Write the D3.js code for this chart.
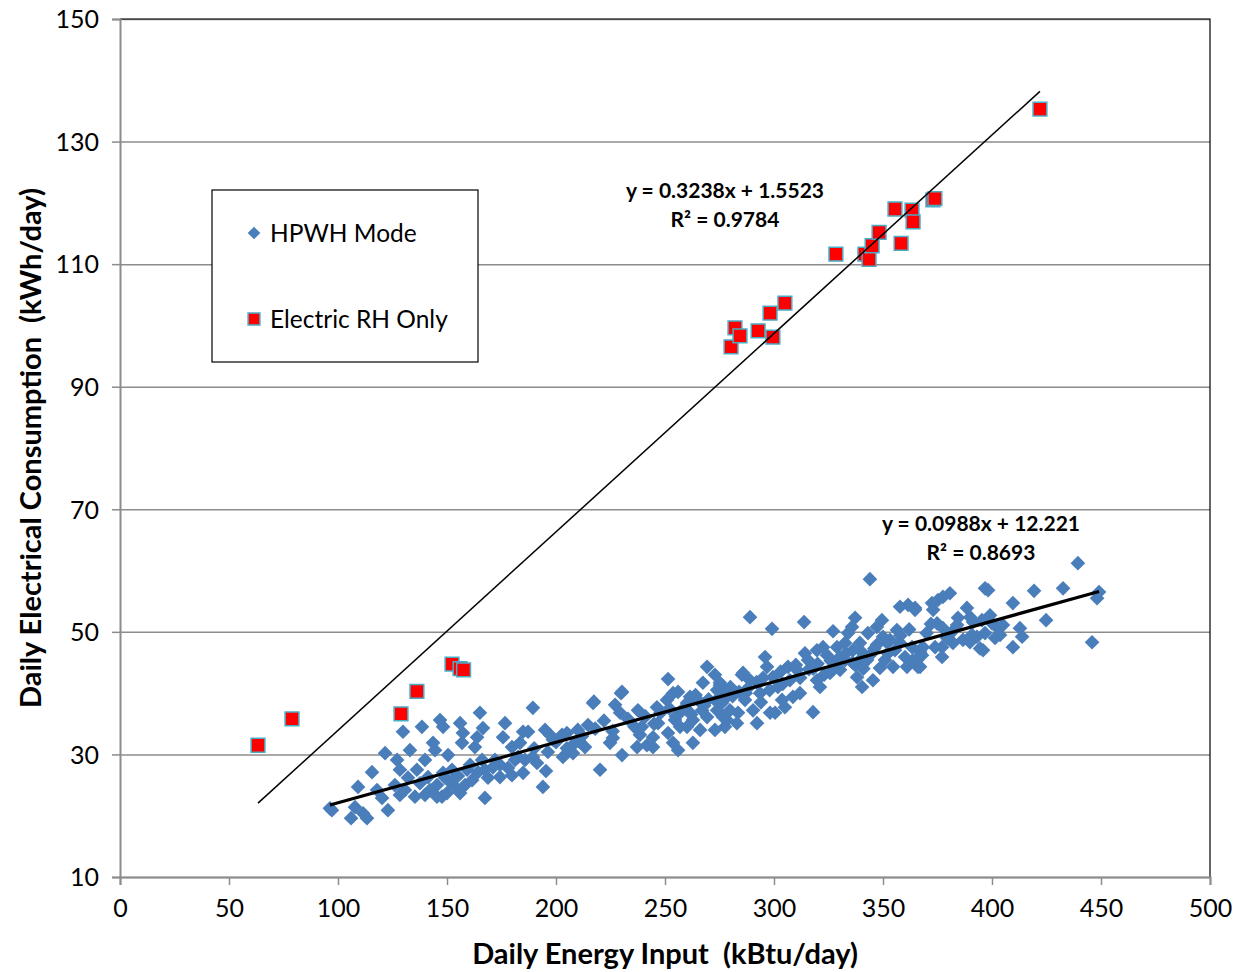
<!DOCTYPE html>
<html>
<head>
<meta charset="utf-8">
<script src="https://cdn.jsdelivr.net/npm/d3@7"></script>
<style>
  body { margin: 0; background: #fff; }
  svg text { font-family: Lato, "Open Sans", sans-serif; }
</style>
</head>
<body>
<div id="chart"></div>
<script>
// Electric RH Only (kBtu/day, kWh/day)
var rhX = [63.3, 78.9, 128.9, 136.2, 152.3, 156.0, 157.6, 280.3, 282.1, 284.4, 292.7, 298.2, 299.5, 305.0,
  328.4, 341.7, 343.6, 345.0, 348.2, 355.5, 358.3, 363.3, 363.8, 372.9, 373.8, 422.0];
var rhY = [31.5, 35.8, 36.6, 40.3, 44.75, 44.0, 43.8, 96.5, 99.6, 98.3, 99.1, 102.0, 98.1, 103.65,
  111.65, 111.65, 110.8, 113.0, 115.2, 119.0, 113.4, 118.8, 116.9, 120.5, 120.7, 135.3];

// HPWH Mode
var hpX = [96.3, 97.2, 106.0, 111.5, 113.3, 109.2, 107.8, 115.6, 117.9, 120.2, 122.9, 121.6, 127.1, 128.4, 129.8, 128.4,
  130.7, 133.0, 138.5, 136.2, 137.6, 139.9, 141.3, 143.6, 144.5, 146.8, 148.2, 150.5, 147.7, 148.2, 151.4, 156.0,
  156.9, 157.3, 153.7, 156.0, 159.2, 161.5, 162.8, 163.8, 165.1, 166.5, 167.4, 167.4, 171.1, 174.3, 176.6, 175.7,
  179.8, 182.6, 184.9, 184.9, 183.5,
  142.2, 145.4, 149.1, 152.3, 155.0, 158.3, 160.6, 164.2, 166.1, 168.8, 172.0, 174.3, 178.0, 179.8, 181.2, 145.4,
  150.0, 139.9, 135.3, 132.1, 126.1,
  189.4, 187.2, 185.8, 189.4, 191.3, 195.0, 197.2, 196.3, 195.4, 194.0, 198.6, 202.8, 203.2, 205.0, 207.8, 208.7,
  211.0, 213.3, 214.7, 217.4, 220.2, 224.8, 226.1, 227.1, 229.4, 230.3, 230.3, 237.6, 237.2, 238.5, 239.4, 241.7,
  244.5, 246.3, 246.8, 244.5, 251.4, 251.4, 250.9, 253.7, 256.0, 253.7, 256.0, 254.6, 256.9, 260.1, 261.5, 262.8,
  262.8, 265.1, 267.4, 269.3, 267.0, 269.3, 272.9, 273.9, 275.2, 272.9, 273.9, 276.1, 278.4, 276.6, 278.4, 275.2,
  266.1, 260.1, 261.5, 256.9,
  289.0, 299.1, 313.8, 327.1, 275.2, 276.6, 279.8, 277.5, 283.0, 283.5, 285.8, 286.7, 289.0, 290.4, 292.2, 293.6,
  295.9, 296.8, 298.2, 300.5, 299.5, 301.8, 303.7, 305.0, 306.4, 307.3, 308.7, 311.9, 314.2, 315.6, 317.9, 319.7,
  321.1, 319.7, 322.5, 324.3, 325.7, 328.0, 328.9, 330.3, 332.6, 334.0, 335.8, 337.2, 336.2, 339.4, 338.1, 340.4,
  342.7, 345.4, 343.1, 347.2, 349.5, 350.0, 352.3, 354.6, 356.4, 357.8, 360.1, 361.0, 363.3, 365.6, 367.0, 357.8,
  361.5, 364.7, 344.0, 217.0, 229.8, 285.3,
  439.4, 432.6, 419.3, 449.1, 448.2, 445.9, 424.8, 409.6, 412.8, 413.8, 409.6, 396.8, 398.2, 380.7, 377.5, 375.2,
  372.5, 373.0, 364.7, 388.5, 384.4, 374.8, 377.5, 391.3, 395.4, 399.1, 400.0, 402.8, 405.0, 403.7, 401.4, 396.8,
  393.1, 390.8, 389.9, 386.7, 382.1, 379.4, 381.7, 377.1, 373.9, 394.5, 395.9, 368.3, 367.0, 367.9, 377.1, 366.0,
  363.8,
  310.5, 332.6, 337.2, 344.0, 347.2, 353.2, 355.5, 339.4, 348.6, 350.9,
  205, 212, 218, 222, 233, 236, 241, 248, 252, 258, 264, 270, 280, 284, 288, 292, 295, 303, 310, 316, 320, 326,
  333, 340, 346, 352, 358, 362, 370, 372, 384, 390,
  262, 268, 274, 281, 287, 294, 298, 304, 312, 318, 323, 330, 336, 341, 226, 245, 255, 190, 200, 210];
var hpY = [21.2, 20.9, 19.6, 20.4, 19.6, 24.7, 21.4, 27.1, 24.2, 22.9, 20.9, 30.2, 29.1, 27.5, 33.7, 23.4,
  24.2, 30.7, 34.5, 27.5, 25.3, 29.1, 26.3, 31.9, 30.7, 35.6, 34.5, 29.9, 23.1, 27.0, 25.5, 35.1,
  31.9, 33.5, 24.7, 23.7, 27.5, 25.8, 31.2, 32.8, 36.8, 34.3, 27.5, 22.9, 27.9, 26.3, 35.1, 32.8,
  31.2, 29.6, 33.7, 27.0, 31.9,
  24.2, 25.0, 26.2, 27.5, 26.5, 25.0, 28.3, 27.1, 29.1, 26.2, 29.1, 28.3, 27.8, 26.6, 29.1, 23.1,
  23.7, 23.4, 23.1, 26.2, 25.0,
  37.6, 33.7, 29.1, 29.6, 28.6, 34.0, 33.2, 30.4, 27.3, 24.7, 32.4, 33.2, 29.6, 31.0, 30.2, 31.9,
  32.0, 31.2, 34.8, 38.6, 27.5, 31.9, 32.7, 38.1, 36.8, 40.2, 29.9, 37.2, 31.2, 33.2, 34.5, 31.5,
  31.2, 37.7, 35.1, 32.8, 33.5, 42.3, 38.9, 40.0, 40.2, 31.9, 30.7, 35.6, 36.8, 38.4, 39.4, 35.6,
  31.9, 38.9, 41.7, 44.3, 37.2, 36.1, 43.0, 40.5, 41.3, 34.0, 37.2, 38.4, 39.4, 36.1, 35.6, 39.4,
  34.0, 34.5, 36.8, 34.5,
  52.4, 50.5, 51.6, 50.1, 41.7, 40.5, 37.2, 34.5, 35.1, 36.8, 43.3, 38.9, 42.1, 37.2, 35.1, 40.0,
  45.9, 44.3, 36.8, 36.8, 42.6, 41.0, 38.9, 37.7, 44.3, 42.1, 39.4, 40.0, 46.5, 45.4, 36.9, 42.1,
  41.0, 47.0, 47.5, 46.2, 43.3, 44.3, 47.5, 43.8, 48.2, 49.8, 50.8, 52.3, 47.0, 48.2, 42.6, 41.0,
  45.4, 42.1, 49.8, 50.8, 51.9, 49.2, 46.5, 44.3, 50.3, 48.2, 45.9, 44.3, 47.5, 45.4, 44.3, 54.1,
  54.4, 53.6, 58.6, 38.4, 40.0, 43.0,
  61.2, 57.1, 56.7, 56.5, 55.5, 48.3, 51.9, 54.7, 50.6, 49.2, 47.5, 57.1, 56.8, 56.3, 55.7, 55.2,
  54.7, 53.6, 53.9, 53.9, 52.3, 51.4, 50.6, 51.6, 51.9, 52.7, 51.4, 50.6, 51.1, 49.5, 49.0, 49.8,
  49.2, 49.5, 48.3, 48.7, 48.2, 49.0, 50.0, 47.5, 47.5, 47.3, 47.0, 47.5, 46.7, 46.2, 45.9, 44.3,
  45.4,
  43.8, 45.4, 44.6, 46.2, 47.9, 48.7, 47.0, 45.4, 44.1, 45.4,
  33.5, 33.0, 34.2, 35.5, 35.8, 34.5, 36.2, 36.8, 37.5, 37.3, 39.7, 39.0, 41.0, 40.2, 40.8, 41.8, 42.5, 43.5,
  44.6, 43.9, 44.8, 45.3, 46.5, 46.8, 47.3, 48.2, 49.4, 50.4, 49.8, 51.3, 51.1, 52.4,
  36.5, 38.0, 38.5, 39.5, 40.0, 38.5, 40.5, 41.5, 42.5, 44.0, 43.0, 45.8, 45.0, 44.0, 33.8, 35.0, 36.2, 31.0, 32.0, 34.0];

var xTicks = [0, 50, 100, 150, 200, 250, 300, 350, 400, 450, 500];
var yTicks = [10, 30, 50, 70, 90, 110, 130, 150];

// trendlines as shown on the chart
var rhFit = { slope: 0.3238, icpt: 1.5523, eq: "y = 0.3238x + 1.5523", r2: "R² = 0.9784" };
var hpFit = { slope: 0.0988, icpt: 12.221, eq: "y = 0.0988x + 12.221", r2: "R² = 0.8693" };

var width = 1236, height = 972;
var plotL = 120, plotR = 1210, plotT = 19, plotB = 877;

var x = d3.scaleLinear().domain([0, 500]).range([plotL, plotR]);
var y = d3.scaleLinear().domain([10, 150]).range([plotB, plotT]);

var svg = d3.select("#chart").append("svg").attr("width", width).attr("height", height);

// gridlines
svg.append("g").attr("transform", "translate(" + plotL + ",0)")
  .call(d3.axisLeft(y).tickValues(yTicks).tickSize(-(plotR - plotL)).tickFormat(""))
  .call(function(g) {
    g.select(".domain").remove();
    g.selectAll("line").attr("stroke", "#8c8c8c").attr("stroke-width", 1.5);
  });

// plot border top/right
svg.append("path").attr("d", "M" + plotL + "," + plotT + "H" + plotR + "V" + plotB)
  .attr("fill", "none").attr("stroke", "#000").attr("stroke-width", 1.2);

// axes
var yAxis = svg.append("g").attr("transform", "translate(" + plotL + ",0)")
  .call(d3.axisLeft(y).tickValues(yTicks).tickSize(8).tickPadding(13));
var xAxis = svg.append("g").attr("transform", "translate(0," + plotB + ")")
  .call(d3.axisBottom(x).tickValues(xTicks).tickSize(8).tickPadding(14));
[yAxis, xAxis].forEach(function(a) {
  a.select(".domain").attr("stroke", "#8c8c8c").attr("stroke-width", 2);
  a.selectAll(".tick line").attr("stroke", "#8c8c8c").attr("stroke-width", 1.5);
  a.selectAll(".tick text").attr("fill", "#000").style("font-size", "25px");
});
yAxis.selectAll(".tick text").attr("dy", "0.35em");

// blue diamonds
var diamond = d3.symbol().type(d3.symbolSquare).size(108);
svg.append("g").selectAll("path").data(hpX).enter().append("path")
  .attr("d", diamond)
  .attr("transform", function(d, i) { return "translate(" + x(d) + "," + y(hpY[i]) + ") rotate(45)"; })
  .attr("fill", "#4a7ebb");

// red squares
var square = d3.symbol().type(d3.symbolSquare).size(190);
svg.append("g").selectAll("path").data(rhX).enter().append("path")
  .attr("d", square)
  .attr("transform", function(d, i) { return "translate(" + x(d) + "," + y(rhY[i]) + ")"; })
  .attr("fill", "#ff0000").attr("stroke", "#4bacc6").attr("stroke-width", 1.5);

// trendlines
function trend(xs, fit, w) {
  var ext = d3.extent(xs);
  svg.append("line")
    .attr("x1", x(ext[0])).attr("y1", y(fit.slope * ext[0] + fit.icpt))
    .attr("x2", x(ext[1])).attr("y2", y(fit.slope * ext[1] + fit.icpt))
    .attr("stroke", "#000").attr("stroke-width", w);
}
trend(rhX, rhFit, 1.5);
trend(hpX, hpFit, 3.2);

// equations
function eqLabel(cx, cy, fit) {
  var t = svg.append("text").attr("x", cx).attr("y", cy).attr("text-anchor", "middle")
    .style("font-size", "21px").style("font-weight", "bold");
  t.append("tspan").attr("x", cx).text(fit.eq);
  t.append("tspan").attr("x", cx).attr("dy", 29).text(fit.r2);
}
eqLabel(725, 198, rhFit);
eqLabel(981, 531, hpFit);

// legend
var lg = svg.append("g");
lg.append("rect").attr("x", 212).attr("y", 190).attr("width", 266).attr("height", 172)
  .attr("fill", "#fff").attr("stroke", "#000").attr("stroke-width", 1.2);
lg.append("path").attr("d", d3.symbol().type(d3.symbolSquare).size(80))
  .attr("transform", "translate(254,233) rotate(45)").attr("fill", "#4a7ebb");
lg.append("text").attr("x", 270).attr("y", 242).style("font-size", "24.5px").text("HPWH Mode");
lg.append("path").attr("d", d3.symbol().type(d3.symbolSquare).size(140))
  .attr("transform", "translate(254,319)").attr("fill", "#ff0000").attr("stroke", "#4bacc6").attr("stroke-width", 1.5);
lg.append("text").attr("x", 270).attr("y", 328).style("font-size", "24.5px").text("Electric RH Only");

// axis titles
svg.append("text").attr("x", 665).attr("y", 964).attr("text-anchor", "middle")
  .style("font-size", "29px").style("font-weight", "bold").style("white-space", "pre")
  .text("Daily Energy Input  (kBtu/day)");
svg.append("text").attr("transform", "translate(41,448) rotate(-90)").attr("text-anchor", "middle")
  .style("font-size", "29px").style("font-weight", "bold").style("white-space", "pre")
  .text("Daily Electrical Consumption  (kWh/day)");
</script>
</body>
</html>
